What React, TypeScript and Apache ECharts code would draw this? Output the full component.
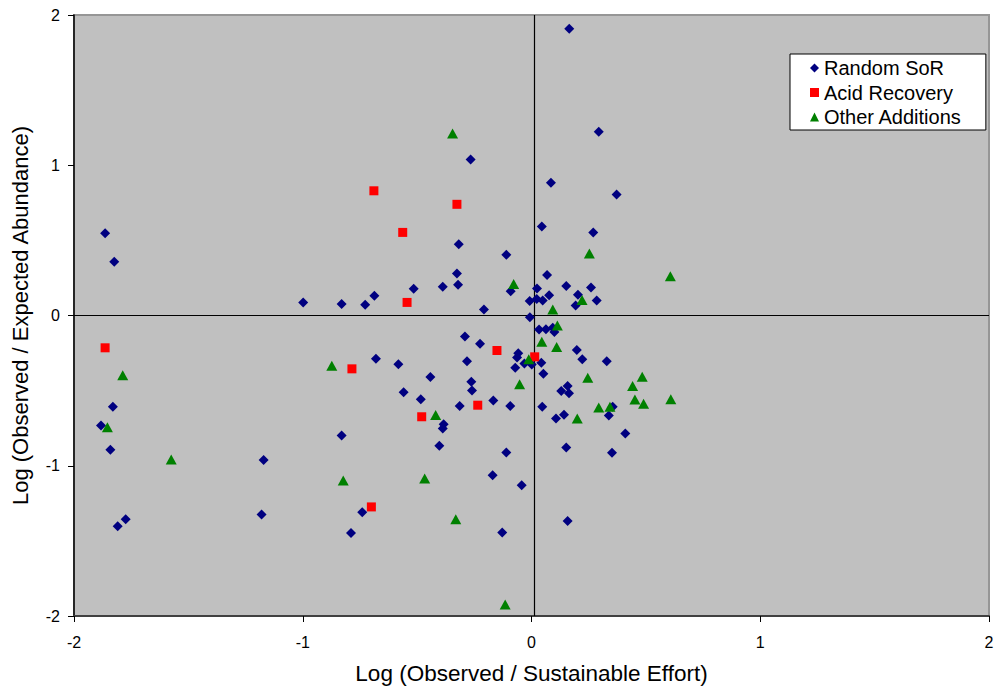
import React, { useEffect, useRef } from "react";
import * as echarts from "echarts";

const seriesNames = ["Random SoR", "Acid Recovery", "Other Additions"];

const randomSoR: [number, number][] = [
  [-1.864, 0.547], [-1.824, 0.358], [-0.998, 0.087], [-0.83, 0.076], [-0.727, 0.071],
  [-0.687, 0.131], [0.165, 1.909], [-0.266, 1.039], [0.294, 1.223], [0.085, 0.884],
  [0.372, 0.806], [-0.318, 0.475], [0.045, 0.593], [0.27, 0.553], [-0.11, 0.404],
  [-0.326, 0.28], [-0.321, 0.205], [-0.515, 0.178], [-0.388, 0.191], [-0.091, 0.162],
  [-0.208, 0.04], [0.024, 0.18], [-0.008, 0.096], [0.023, 0.109], [0.049, 0.1],
  [0.077, 0.134], [-0.007, -0.011], [0.068, 0.269], [0.152, 0.196], [0.26, 0.187],
  [0.203, 0.138], [0.193, 0.067], [0.285, 0.1], [-1.83, -0.608], [-1.882, -0.732],
  [-1.841, -0.894], [-1.171, -0.961], [-1.774, -1.356], [-1.809, -1.402], [-1.18, -1.324],
  [-0.68, -0.288], [-0.83, -0.798], [-0.74, -1.309], [-0.789, -1.447], [0.033, -0.093],
  [0.063, -0.091], [0.093, -0.082], [0.1, -0.109], [-0.291, -0.139], [-0.225, -0.188],
  [0.198, -0.23], [0.222, -0.292], [0.329, -0.304], [-0.058, -0.252], [-0.063, -0.279],
  [-0.031, -0.319], [0.001, -0.326], [0.043, -0.315], [-0.071, -0.348], [0.052, -0.388],
  [-0.582, -0.324], [-0.282, -0.304], [-0.442, -0.41], [-0.263, -0.441], [-0.26, -0.499],
  [-0.559, -0.51], [-0.484, -0.557], [-0.314, -0.603], [-0.167, -0.565], [-0.093, -0.603],
  [-0.384, -0.723], [-0.388, -0.752], [-0.403, -0.867], [0.047, -0.608], [0.13, -0.503],
  [0.158, -0.47], [0.164, -0.517], [0.142, -0.661], [0.107, -0.685], [0.355, -0.608],
  [0.338, -0.665], [0.41, -0.785], [0.152, -0.878], [0.352, -0.914], [-0.11, -0.912],
  [-0.17, -1.063], [-0.043, -1.129], [0.158, -1.367], [-0.128, -1.444],
];

const acidRecovery: [number, number][] = [
  [-0.689, 0.83], [-0.326, 0.74], [-0.563, 0.553], [-0.544, 0.087], [-1.864, -0.215],
  [-0.785, -0.355], [-0.7, -1.274], [-0.151, -0.233], [0.014, -0.275], [-0.235, -0.597],
  [-0.48, -0.674],
];

const otherAdditions: [number, number][] = [
  [-0.345, 1.212], [0.253, 0.413], [-0.078, 0.209], [0.093, 0.04], [0.221, 0.103],
  [0.607, 0.262], [-1.787, -0.398], [-1.854, -0.743], [-1.575, -0.958], [-0.873, -0.335],
  [-0.823, -1.098], [0.113, -0.066], [0.045, -0.175], [0.11, -0.209], [-0.012, -0.292],
  [-0.052, -0.457], [-0.419, -0.663], [0.246, -0.415], [0.2, -0.685], [0.294, -0.612],
  [0.343, -0.608], [0.442, -0.47], [0.484, -0.408], [0.452, -0.559], [0.49, -0.588],
  [0.609, -0.557], [-0.467, -1.085], [-0.331, -1.356], [-0.115, -1.924],
];

// reference lines drawn in the original plot
const verticalRefX = 0.013;
const horizontalRefY = 0;

const FONT = "'Liberation Sans', Arial, sans-serif";

export default function App() {
  const ref = useRef<HTMLDivElement>(null);
  useEffect(() => {
    document.body.style.margin = "0";
    if (!ref.current) return;
    const chart = echarts.init(ref.current, null, { renderer: "svg" });
    chart.setOption({
      animation: false,
      backgroundColor: "#ffffff",
      grid: {
        left: 74,
        top: 15,
        right: 11,
        bottom: 75,
        show: true,
        backgroundColor: "#C0C0C0",
        borderColor: "#969696",
        borderWidth: 2,
      },
      legend: {
        orient: "vertical",
        left: 790,
        top: 54,
        backgroundColor: "#ffffff",
        borderColor: "#000000",
        borderWidth: 1,
        padding: [4, 24, 3, 20],
        itemGap: 4.5,
        itemWidth: 9,
        itemHeight: 9,
        itemStyle: { borderWidth: 0 },
        textStyle: { fontFamily: FONT, fontSize: 20, color: "#000", lineHeight: 20 },
        data: [
          { name: seriesNames[0], icon: "diamond" },
          { name: seriesNames[1], icon: "rect" },
          { name: seriesNames[2], icon: "triangle" },
        ],
      },
      xAxis: {
        type: "value",
        min: -2,
        max: 2,
        interval: 1,
        name: "Log (Observed / Sustainable Effort)",
        nameLocation: "middle",
        nameGap: 46,
        nameTextStyle: { fontFamily: FONT, fontSize: 22.5, color: "#000" },
        axisLine: { show: true, onZero: false, lineStyle: { color: "#404040", width: 2 } },
        axisTick: { show: true, length: 6, lineStyle: { color: "#000" } },
        axisLabel: { fontFamily: FONT, fontSize: 16, color: "#000", margin: 18 },
        splitLine: { show: false },
      },
      yAxis: {
        type: "value",
        min: -2,
        max: 2,
        interval: 1,
        name: "Log (Observed / Expected Abundance)",
        nameLocation: "middle",
        nameGap: 43,
        nameTextStyle: { fontFamily: FONT, fontSize: 22, color: "#000" },
        axisLine: { show: true, onZero: false, lineStyle: { color: "#000", width: 1.5 } },
        axisTick: { show: true, length: 6, lineStyle: { color: "#000" } },
        axisLabel: { fontFamily: FONT, fontSize: 16, color: "#000", margin: 14 },
        splitLine: { show: false },
      },
      series: [
        {
          name: seriesNames[0],
          type: "scatter",
          symbol: "diamond",
          symbolSize: 10,
          itemStyle: { color: "#000080", opacity: 1 },
          data: randomSoR,
          z: 3,
          markLine: {
            silent: true,
            symbol: ["none", "none"],
            label: { show: false },
            lineStyle: { color: "#000", width: 1.2, type: "solid" },
            data: [{ xAxis: verticalRefX }, { yAxis: horizontalRefY }],
            z: 1,
          },
        },
        {
          name: seriesNames[1],
          type: "scatter",
          symbol: "rect",
          symbolSize: 9,
          itemStyle: { color: "#FF0000", opacity: 1 },
          data: acidRecovery,
          z: 4,
        },
        {
          name: seriesNames[2],
          type: "scatter",
          symbol: "triangle",
          symbolSize: [11, 10],
          itemStyle: { color: "#008000", opacity: 1 },
          data: otherAdditions,
          z: 5,
        },
      ],
    });
    return () => chart.dispose();
  }, []);
  return <div ref={ref} style={{ width: 1000, height: 691 }} />;
}
